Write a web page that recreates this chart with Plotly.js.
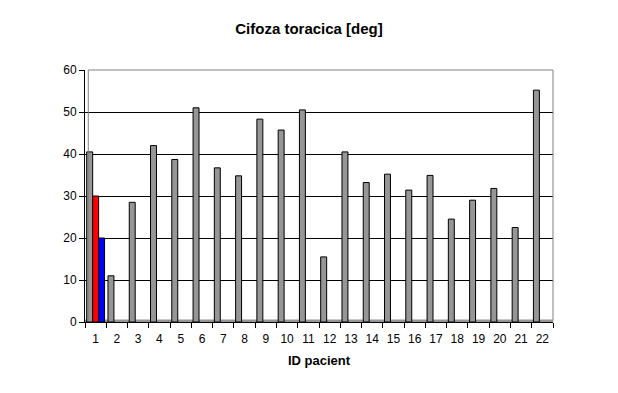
<!DOCTYPE html>
<html>
<head>
<meta charset="utf-8">
<script src="https://cdn.plot.ly/plotly-3.0.1.min.js"></script>
<style>html,body{margin:0;padding:0;background:#fff;}#chart{width:618px;height:393px;}</style>
</head>
<body>
<div id="chart"></div>
<script>
var categories = ["1","2","3","4","5","6","7","8","9","10","11","12","13","14","15","16","17","18","19","20","21","22"];
var greyValues = [40.5,11,28.5,42,38.7,51,36.7,34.8,48.3,45.7,50.5,15.5,40.5,33.2,35.2,31.4,34.9,24.5,29,31.8,22.5,55.2];
var redValues = [30,null,null,null,null,null,null,null,null,null,null,null,null,null,null,null,null,null,null,null,null,null];
var blueValues = [20,null,null,null,null,null,null,null,null,null,null,null,null,null,null,null,null,null,null,null,null,null];
var yTicks = [0,10,20,30,40,50,60];

var font = "Liberation Sans, Arial, sans-serif";
function bar(vals, color) {
  return {type:"bar", x:categories, y:vals, marker:{color:color, line:{color:"#000", width:1}},
    hoverinfo:"x+y", showlegend:false};
}
var data = [bar(greyValues,"#969696"), bar(redValues,"#ff0000"), bar(blueValues,"#0000ff")];
var layout = {
  width:618, height:393,
  margin:{l:85, r:65, t:70, b:71},
  paper_bgcolor:"#fff", plot_bgcolor:"#fff",
  barmode:"group", bargap:0.16, bargroupgap:0,
  font:{family:font, size:12, color:"#000"},
  title:{text:"<b>Cifoza toracica [deg]</b>", font:{family:font, size:15, color:"#000"}, x:0.5, xanchor:"center", y:0.928, yanchor:"middle"},
  xaxis:{type:"category", tickson:"boundaries", ticks:"outside", ticklen:5, tickcolor:"#000", tickangle:0,
    ticklabelstandoff:6,
    showline:true, linecolor:"#000", linewidth:1, showgrid:false, zeroline:false,
    tickfont:{family:font, size:12, color:"#000"},
    title:{text:"<b>ID pacient</b>", font:{family:font, size:13, color:"#000"}, standoff:10}},
  yaxis:{range:[0,60], tickvals:yTicks, ticks:"outside", ticklen:5, tickcolor:"#000",
    showline:true, linecolor:"#000", linewidth:1, showgrid:true, gridcolor:"#000", gridwidth:1,
    zeroline:false, tickfont:{family:font, size:12, color:"#000"}},
  shapes:[
    {type:"line", xref:"paper", yref:"paper", x0:0.007, x1:0.007, y0:0.005, y1:1, line:{color:"#808080", width:1}},
    {type:"line", xref:"paper", yref:"paper", x0:0.007, x1:1, y0:1, y1:1, line:{color:"#808080", width:1}},
    {type:"line", xref:"paper", yref:"paper", x0:1, x1:1, y0:0.005, y1:1, line:{color:"#808080", width:1}},
    {type:"rect", xref:"paper", yref:"paper", x0:0.0, x1:1, y0:0, y1:0.01, fillcolor:"#969696", line:{width:0}, layer:"below"}
  ]
};
Plotly.newPlot("chart", data, layout, {displayModeBar:false, staticPlot:true});
</script>
</body>
</html>
